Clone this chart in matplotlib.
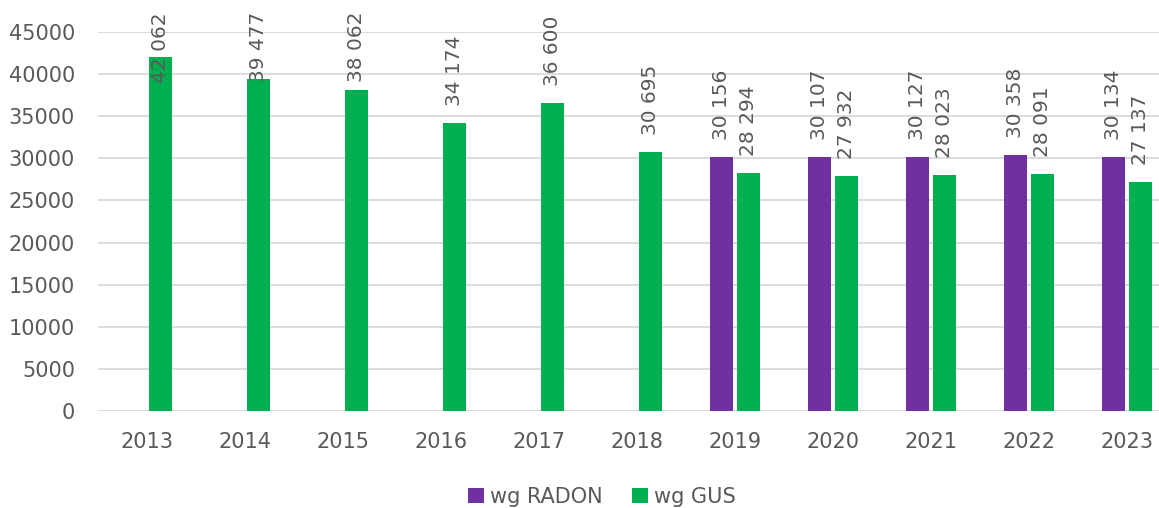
import numpy as np
import matplotlib
matplotlib.use('Agg')
import matplotlib.pyplot as plt
import matplotlib.transforms as mtransforms

years = ['2013', '2014', '2015', '2016', '2017', '2018',
         '2019', '2020', '2021', '2022', '2023']
radon = [np.nan, np.nan, np.nan, np.nan, np.nan, np.nan,
         30156, 30107, 30127, 30358, 30134]
gus = [42062, 39477, 38062, 34174, 36600, 30695,
       28294, 27932, 28023, 28091, 27137]

PURPLE = '#7030A0'
GREEN = '#00B050'
TXT = '#595959'
GRID = '#D9D9D9'

plt.rcParams.update({'font.family': 'DejaVu Sans', 'font.size': 14.5})

fig = plt.figure(figsize=(11.59, 5.08), dpi=100)
ax = fig.add_axes([98/1159, 1 - 411/508, 1078/1159, 379/508])

x = np.arange(len(years))
w, off = 0.225, 0.138
b1 = ax.bar(x - off, radon, w, color=PURPLE, label='wg RADON', zorder=2)
b2 = ax.bar(x + off, gus, w, color=GREEN, label='wg GUS', zorder=2)

ax.set_ylim(0, 45000)
ax.set_xlim(-0.5, len(years) - 0.5)
ax.set_yticks(range(0, 45001, 5000))
ax.set_xticks(x)
ax.set_xticklabels(years)
ax.yaxis.grid(True, color=GRID, lw=1.3, zorder=0)
ax.set_axisbelow(True)
for s in ax.spines.values():
    s.set_visible(False)
ax.tick_params(axis='both', length=0, colors=TXT, labelsize=15)
ax.tick_params(axis='y', pad=16.5)
ax.tick_params(axis='x', pad=15)

# value labels, rotated; pushed down when they would run off the top
top_px = 12
ax_h = 379
lbl_h = 71
gap = 17
blend = mtransforms.blended_transform_factory(ax.transData, ax.transAxes)
for xs, vals in ((x - off, radon), (x + off, gus)):
    for xi, v in zip(xs, vals):
        if np.isnan(v):
            continue
        s = f'{int(v):,}'.replace(',', ' ')
        bar_px = v / 45000 * ax_h
        if bar_px + gap + lbl_h > (ax_h + 32 - top_px):
            ax.text(xi, (411 - top_px) / ax_h, s, transform=blend, rotation=90,
                    ha='center', va='top', color=TXT, fontsize=14.5, clip_on=False)
        else:
            ax.annotate(s, (xi, v), xytext=(0, gap), textcoords='offset pixels',
                        rotation=90, ha='center', va='bottom', color=TXT,
                        fontsize=14.5, annotation_clip=False)

fig.legend(handles=[b1, b2], labels=['wg RADON', 'wg GUS'], loc='center',
           bbox_to_anchor=(602/1159, 1 - 497/508), ncol=2, frameon=False,
           handlelength=0.75, handleheight=0.75, handletextpad=0.3,
           columnspacing=1.4, labelcolor=TXT, fontsize=15)

fig.savefig('out.png', dpi=100)
